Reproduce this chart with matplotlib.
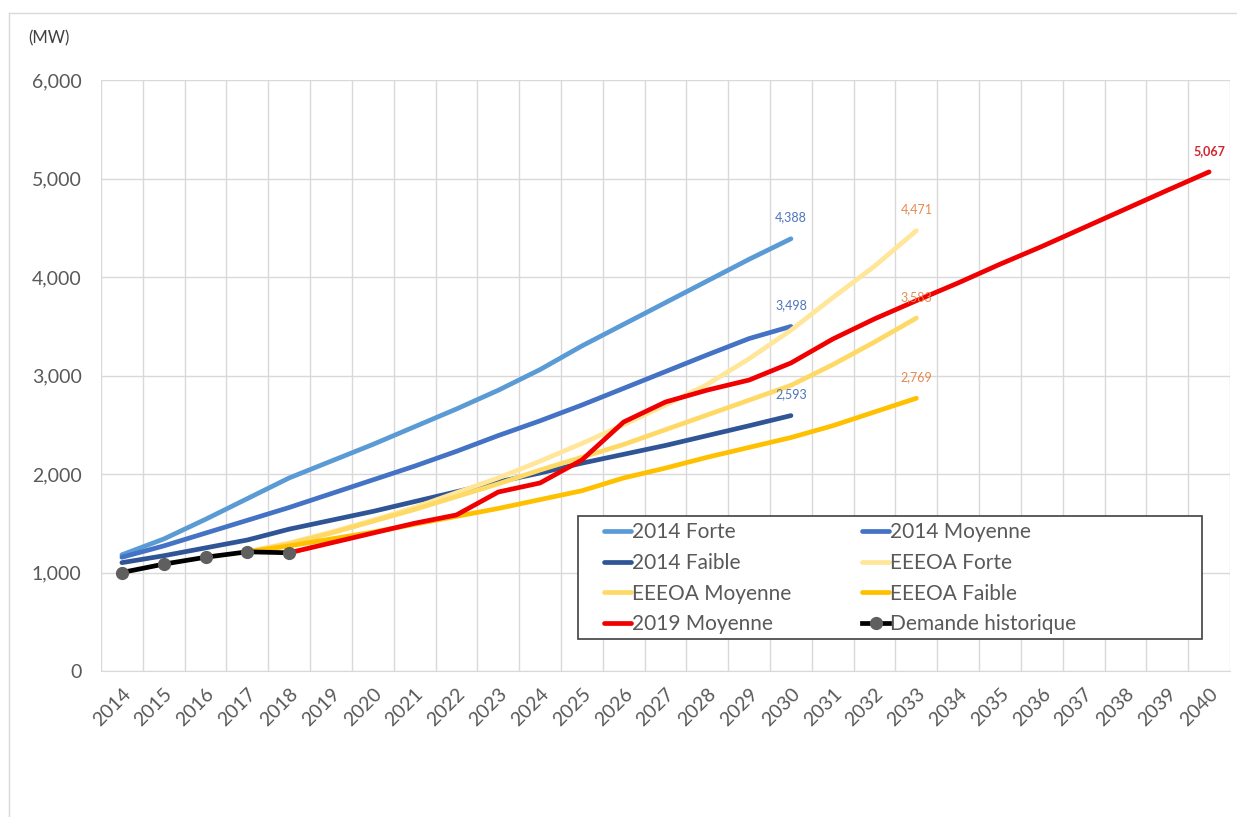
import matplotlib as mpl
import numpy as np

mpl.use('Agg')
from matplotlib import pyplot as plt
from matplotlib.ticker import FuncFormatter, MultipleLocator
from matplotlib.lines import Line2D
from matplotlib.patches import Rectangle

years = list(range(2014, 2041))

# Columns: year -> demand (MW)
forte_2014 = [1180, 1340, 1540, 1750, 1960, 2130, 2300, 2480, 2660, 2850,
              3060, 3300, 3520, 3740, 3960, 4180, 4388]
moyenne_2014 = [1155, 1270, 1400, 1530, 1660, 1800, 1940, 2080, 2230, 2390,
                2540, 2700, 2870, 3040, 3210, 3375, 3498]
faible_2014 = [1100, 1170, 1250, 1330, 1440, 1530, 1620, 1720, 1820, 1920,
               2010, 2110, 2200, 2290, 2390, 2490, 2593]
# EEEOA series start in 2017
eeeoa_forte = [1210, 1300, 1410, 1530, 1660, 1810, 1960, 2130, 2310, 2500,
               2700, 2910, 3170, 3460, 3790, 4110, 4471]
eeeoa_moyenne = [1210, 1290, 1400, 1520, 1640, 1770, 1900, 2040, 2170, 2300,
                 2450, 2600, 2750, 2900, 3110, 3340, 3583]
eeeoa_faible = [1210, 1270, 1340, 1410, 1490, 1570, 1650, 1740, 1830, 1960,
                2060, 2170, 2270, 2370, 2490, 2630, 2769]
# 2019 scenario starts in 2018
moyenne_2019 = [1200, 1300, 1400, 1500, 1584, 1817, 1909, 2142, 2528, 2731,
                2852, 2954, 3127, 3370, 3575, 3760, 3940, 4130, 4310, 4500,
                4690, 4880, 5067]
historique = [1000, 1085, 1155, 1210, 1200]

series = [
    ('2014 Forte', 2014, forte_2014, '#5B9BD5'),
    ('2014 Moyenne', 2014, moyenne_2014, '#4472C4'),
    ('2014 Faible', 2014, faible_2014, '#2F5597'),
    ('EEEOA Forte', 2017, eeeoa_forte, '#FFE699'),
    ('EEEOA Moyenne', 2017, eeeoa_moyenne, '#FFD966'),
    ('EEEOA Faible', 2017, eeeoa_faible, '#FFC000'),
    ('2019 Moyenne', 2018, moyenne_2019, '#F00000'),
]
label_colors = {
    '2014 Forte': '#4F74B8', '2014 Moyenne': '#4F74B8', '2014 Faible': '#4F74B8',
    'EEEOA Forte': '#E58A4E', 'EEEOA Moyenne': '#E58A4E', 'EEEOA Faible': '#E58A4E',
    '2019 Moyenne': '#D0262E',
}

plt.rcParams['font.family'] = ['Lato', 'DejaVu Sans']
grey = '#595959'
W, H = 1237, 817

fig = plt.figure(figsize=(W / 100, H / 100), dpi=100)
ax = fig.add_axes([101 / W, 1 - 671 / H, 1129 / W, 591 / H])

handles = []
for name, start, vals, color in series:
    x = np.arange(len(vals)) + (start - years[0])
    h, = ax.plot(x, vals, color=color, lw=3.4, solid_capstyle='round',
                 solid_joinstyle='round', label=name)
    handles.append(h)
    fw = 'bold' if name == '2019 Moyenne' else 'normal'
    ax.annotate('{:,}'.format(vals[-1]), (x[-1], vals[-1]), xytext=(0, 11),
                textcoords='offset points', ha='center', va='bottom',
                fontsize=9, color=label_colors[name], fontweight=fw)

xh = np.arange(len(historique))
h, = ax.plot(xh, historique, color='black', lw=3.4, marker='o', ms=8.5,
             mfc='#5F5F5F', mec='#5F5F5F', label='Demande historique')
handles.append(h)

ax.set_xlim(-0.5, len(years) - 0.5)
ax.set_ylim(0, 6000)
ax.yaxis.set_major_locator(MultipleLocator(1000))
ax.yaxis.set_major_formatter(FuncFormatter(lambda v, p: '{:,}'.format(int(v))))
ax.set_xticks(np.arange(len(years)))
ax.set_xticklabels([str(y) for y in years], rotation=45, ha='right',
                   va='top', rotation_mode='anchor')
ax.set_xticks(np.arange(len(years) + 1) - 0.5, minor=True)
ax.tick_params(axis='both', which='both', length=0, colors=grey,
               labelsize=14)
ax.tick_params(axis='x', pad=10)
ax.tick_params(axis='y', pad=14)
ax.grid(axis='y', which='major', color='#D9D9D9', lw=1)
ax.grid(axis='x', which='minor', color='#D9D9D9', lw=1)
ax.set_axisbelow(True)
for side in ['top', 'right', 'left']:
    ax.spines[side].set_visible(False)
ax.spines['bottom'].set_color('#D9D9D9')

fig.text(28 / W, 1 - 38 / H, '(MW)', fontsize=12, color='#404040',
         va='center', ha='left')

# chart area border
fig.add_artist(Line2D([9 / W, 9 / W], [0, 1 - 13 / H], color='#D9D9D9', lw=1))
fig.add_artist(Line2D([9 / W, 1], [1 - 13 / H, 1 - 13 / H],
                      color='#D9D9D9', lw=1))

# legend frame drawn separately, entries laid out row by row
fig.add_artist(Rectangle((578 / W, 1 - 639 / H), 624 / W, 123 / H,
                         transform=fig.transFigure, facecolor='white',
                         edgecolor='#404040', lw=1.2, zorder=5))
order = handles[0::2] + handles[1::2]
leg = fig.legend(handles=order, loc='upper left', ncol=2,
                 bbox_to_anchor=(604 / W, 1 - 522 / H),
                 borderaxespad=0, fontsize=15, handlelength=1.3,
                 handletextpad=0.05, labelspacing=0.52, borderpad=0,
                 columnspacing=3.4, frameon=False)
leg.set_zorder(6)
for t in leg.get_texts():
    t.set_color(grey)

fig.savefig('out.png', dpi=100)
